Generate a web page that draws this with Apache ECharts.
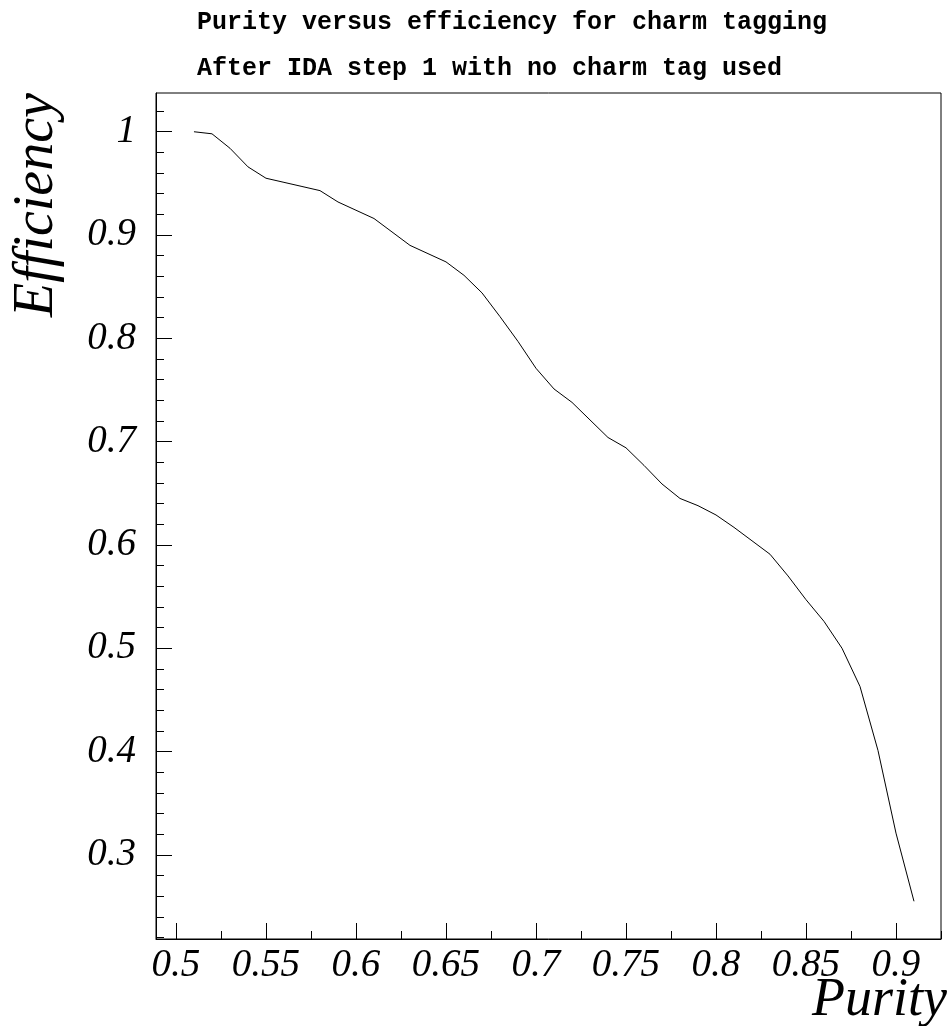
<!DOCTYPE html>
<html><head><meta charset="utf-8">
<script src="https://cdn.jsdelivr.net/npm/echarts@6/dist/echarts.min.js"></script>
<style>html,body{margin:0;padding:0;background:#fff}#c{width:950px;height:1026px}</style>
</head><body><div id="c"></div>
<script>
const titleLine1 = 'Purity versus efficiency for charm tagging';
const titleLine2 = 'After IDA step 1 with no charm tag used';
const xTitle = 'Purity';
const yTitle = 'Efficiency';

const purity = [0.51,0.52,0.53,0.54,0.55,0.56,0.57,0.58,0.59,0.60,
                0.61,0.62,0.63,0.64,0.65,0.66,0.67,0.68,0.69,0.70,
                0.71,0.72,0.73,0.74,0.75,0.76,0.77,0.78,0.79,0.80,
                0.81,0.82,0.83,0.84,0.85,0.86,0.87,0.88,0.89,0.90,0.91];
const efficiency = [1.000,0.998,0.984,0.966,0.955,0.951,0.947,0.943,0.932,0.924,
                    0.916,0.903,0.890,0.882,0.874,0.861,0.844,0.821,0.797,0.771,
                    0.751,0.738,0.721,0.704,0.694,0.677,0.659,0.645,0.638,0.629,
                    0.617,0.604,0.591,0.570,0.547,0.526,0.500,0.463,0.401,0.321,0.255];

const xMajorTicks = [0.5,0.55,0.6,0.65,0.7,0.75,0.8,0.85,0.9];
const xMinorTicks = [0.525,0.575,0.625,0.675,0.725,0.775,0.825,0.875,0.925];
const yMajorTicks = [0.3,0.4,0.5,0.6,0.7,0.8,0.9,1];
const yMinorTicks = [0.22,0.24,0.26,0.28,0.32,0.34,0.36,0.38,0.42,0.44,0.46,0.48,
                     0.52,0.54,0.56,0.58,0.62,0.64,0.66,0.68,0.72,0.74,0.76,0.78,
                     0.82,0.84,0.86,0.88,0.92,0.94,0.96,0.98,1.02];

const X_MIN = 0.4889, X_MAX = 0.925;
const Y_MIN = 0.2185, Y_MAX = 1.0375;

const labelFont = {fontFamily:'Liberation Serif', fontStyle:'italic', fontSize:39, color:'#000'};
const axisLineStyle = {lineStyle:{color:'#000', width:1}};

const chart = echarts.init(document.getElementById('c'), null, {renderer:'canvas'});
chart.setOption({
  animation:false,
  backgroundColor:'#fff',
  grid:{left:156, top:93, right:9, bottom:87, show:true, borderColor:'#000', borderWidth:1, backgroundColor:'transparent'},
  xAxis:[
    {type:'value', position:'bottom', min:X_MIN, max:X_MAX,
     axisLine:{show:true, ...axisLineStyle},
     splitLine:{show:false},
     axisTick:{show:true, inside:true, length:16, customValues:xMajorTicks, lineStyle:{color:'#000'}},
     axisLabel:{show:true, margin:7, customValues:xMajorTicks, ...labelFont,
                formatter:v=>String(v)}},
    {type:'value', position:'bottom', min:X_MIN, max:X_MAX,
     axisLine:{show:false}, splitLine:{show:false},
     axisTick:{show:true, inside:true, length:8, customValues:xMinorTicks, lineStyle:{color:'#000'}},
     axisLabel:{show:false}}
  ],
  yAxis:[
    {type:'value', position:'left', min:Y_MIN, max:Y_MAX,
     axisLine:{show:true, ...axisLineStyle},
     splitLine:{show:false},
     axisTick:{show:true, inside:true, length:16, customValues:yMajorTicks, lineStyle:{color:'#000'}},
     axisLabel:{show:true, margin:20, customValues:yMajorTicks, ...labelFont,
                formatter:v=>String(v)}},
    {type:'value', position:'left', min:Y_MIN, max:Y_MAX,
     axisLine:{show:false}, splitLine:{show:false},
     axisTick:{show:true, inside:true, length:8, customValues:yMinorTicks, lineStyle:{color:'#000'}},
     axisLabel:{show:false}}
  ],
  series:[{
    type:'line', xAxisIndex:0, yAxisIndex:0,
    data: purity.map((p,i)=>[p, efficiency[i]]),
    showSymbol:false, symbol:'none',
    lineStyle:{color:'#000', width:1},
    silent:true
  }],
  graphic:[
    {type:'text', x:197, y:23, style:{text:titleLine1, font:'bold 25px "Liberation Mono"', fill:'#000', textAlign:'left', textVerticalAlign:'middle'}},
    {type:'text', x:197, y:69, style:{text:titleLine2, font:'bold 25px "Liberation Mono"', fill:'#000', textAlign:'left', textVerticalAlign:'middle'}},
    {type:'text', x:37, y:205, rotation:Math.PI/2, style:{text:yTitle, font:'italic 56px "Liberation Serif"', fill:'#000', textAlign:'center', textVerticalAlign:'middle'}},
    {type:'text', x:947, y:1001, style:{text:xTitle, font:'italic 54px "Liberation Serif"', fill:'#000', textAlign:'right', textVerticalAlign:'middle'}}
  ]
});
</script>
</body></html>
